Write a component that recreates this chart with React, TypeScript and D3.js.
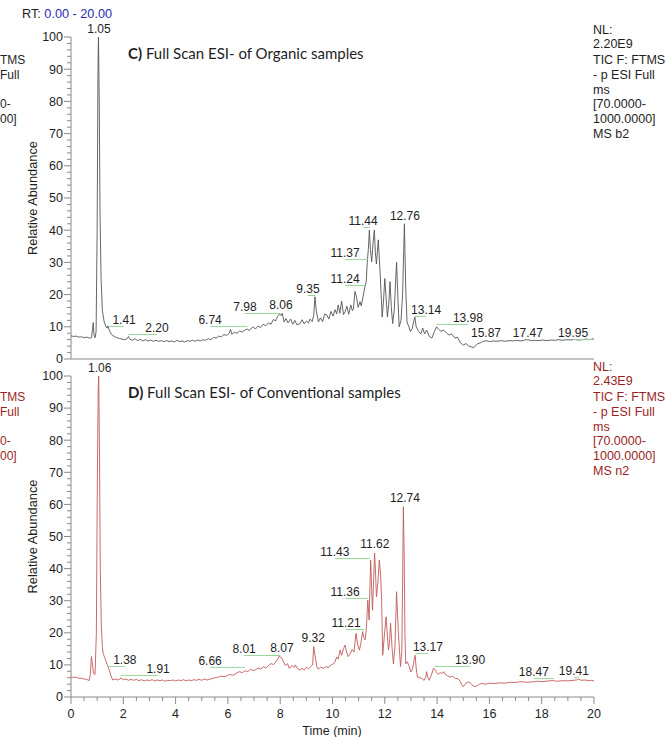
import React from 'react';
import * as d3 from 'd3';

// ---------- DATA ----------
// Organic sample TIC trace: [retention time (min), relative abundance (%)]
const organicTrace: [number, number][] = [
  [0.0, 7.2], [0.1, 7.0], [0.2, 7.1], [0.3, 6.8], [0.4, 6.9], [0.5, 6.6], [0.6, 6.8], [0.7, 6.5],
  [0.78, 6.6], [0.82, 9.0], [0.85, 11.3], [0.88, 7.5], [0.92, 6.6], [0.96, 8.5], [1.0, 40], [1.03, 88],
  [1.05, 100], [1.08, 80], [1.11, 45], [1.15, 25], [1.2, 15], [1.27, 11.5], [1.33, 10.2], [1.38, 9.6],
  [1.41, 10.3], [1.47, 8.8], [1.55, 7.6], [1.65, 7.0], [1.75, 6.6], [1.85, 6.4], [1.95, 6.2], [2.05, 6.0],
  [2.13, 6.2], [2.2, 7.0], [2.26, 6.1], [2.35, 5.8], [2.45, 6.3], [2.55, 5.7], [2.65, 6.1], [2.75, 5.6],
  [2.85, 6.0], [2.95, 5.6], [3.05, 5.9], [3.15, 5.5], [3.25, 5.8], [3.35, 5.5], [3.45, 5.7], [3.55, 5.4],
  [3.65, 5.7], [3.75, 5.4], [3.85, 5.6], [3.95, 5.3], [4.05, 5.8], [4.15, 5.4], [4.25, 5.6], [4.35, 5.3],
  [4.45, 5.7], [4.55, 5.5], [4.65, 5.8], [4.75, 5.5], [4.85, 5.9], [4.95, 5.6], [5.05, 6.0], [5.15, 5.8],
  [5.25, 6.3], [5.35, 6.0], [5.45, 6.7], [5.55, 6.5], [5.65, 7.1], [5.75, 6.9], [5.85, 7.6], [5.95, 7.3],
  [6.05, 8.0], [6.1, 9.2], [6.15, 7.7], [6.25, 8.3], [6.35, 8.0], [6.45, 8.7], [6.55, 8.4], [6.65, 9.0],
  [6.74, 9.3], [6.82, 8.8], [6.9, 9.6], [6.97, 10.0], [7.05, 9.3], [7.15, 10.2], [7.25, 9.8], [7.35, 10.8],
  [7.45, 10.3], [7.55, 11.2], [7.65, 10.8], [7.74, 12.3], [7.82, 11.8], [7.9, 13.2], [7.98, 14.0], [8.03, 13.5],
  [8.08, 14.2], [8.15, 11.5], [8.22, 12.6], [8.3, 11.2], [8.4, 12.4], [8.48, 10.8], [8.56, 12.0], [8.64, 10.6],
  [8.76, 11.0], [8.84, 12.2], [8.92, 10.9], [9.0, 11.8], [9.08, 11.2], [9.14, 12.4], [9.22, 11.6], [9.28, 13.5],
  [9.33, 19.3], [9.38, 15.0], [9.46, 11.5], [9.54, 12.8], [9.62, 11.6], [9.7, 13.9], [9.78, 13.7], [9.86, 12.4],
  [9.94, 14.8], [10.02, 13.3], [10.1, 15.3], [10.16, 14.0], [10.22, 16.8], [10.28, 14.2], [10.35, 18.0], [10.42, 13.8],
  [10.48, 14.6], [10.55, 16.4], [10.62, 13.9], [10.7, 16.8], [10.76, 15.0], [10.8, 15.5], [10.86, 21.0], [10.92, 19.2],
  [10.98, 16.0], [11.05, 17.8], [11.1, 16.5], [11.16, 19.0], [11.24, 22.5], [11.29, 24.0], [11.33, 30.0], [11.37, 34.0],
  [11.41, 40.0], [11.45, 34.0], [11.5, 30.2], [11.55, 36.0], [11.6, 40.0], [11.64, 33.0], [11.68, 29.5], [11.75, 37.0],
  [11.82, 27.0], [11.86, 20.0], [11.9, 13.0], [11.95, 18.0], [12.0, 25.0], [12.05, 19.0], [12.1, 13.0], [12.15, 17.0],
  [12.2, 24.0], [12.25, 16.0], [12.3, 11.0], [12.36, 15.0], [12.45, 30.0], [12.5, 19.0], [12.55, 10.0], [12.62, 12.0],
  [12.68, 20.0], [12.75, 42.0], [12.8, 22.0], [12.85, 11.5], [12.92, 10.0], [12.98, 8.5], [13.05, 9.5], [13.1, 11.5],
  [13.15, 13.0], [13.2, 10.0], [13.3, 8.5], [13.38, 7.8], [13.45, 9.6], [13.52, 7.8], [13.6, 9.0], [13.7, 7.0],
  [13.8, 6.5], [13.88, 8.2], [13.98, 10.0], [14.05, 9.3], [14.15, 8.6], [14.25, 9.0], [14.37, 8.0], [14.47, 7.4],
  [14.55, 7.8], [14.68, 6.5], [14.78, 6.8], [14.88, 5.2], [15.0, 4.3], [15.1, 4.8], [15.2, 4.1], [15.3, 3.8],
  [15.38, 3.5], [15.48, 4.2], [15.56, 4.8], [15.65, 5.0], [15.75, 5.4], [15.87, 5.7], [16.0, 5.4], [16.15, 5.6],
  [16.3, 5.5], [16.45, 5.7], [16.6, 5.5], [16.75, 5.7], [16.9, 5.6], [17.05, 5.8], [17.2, 5.6], [17.35, 5.9],
  [17.47, 6.0], [17.6, 5.7], [17.75, 5.8], [17.9, 5.7], [18.05, 5.9], [18.2, 5.7], [18.35, 5.9], [18.5, 5.8],
  [18.65, 6.0], [18.8, 5.8], [18.95, 6.0], [19.1, 5.9], [19.25, 6.1], [19.4, 5.9], [19.55, 6.0], [19.7, 6.2],
  [19.85, 6.0], [19.95, 6.3], [20.0, 6.1],
];

// Conventional sample TIC trace
const conventionalTrace: [number, number][] = [
  [0.0, 6.3], [0.1, 6.1], [0.2, 6.2], [0.3, 5.8], [0.4, 5.9], [0.5, 5.6], [0.6, 5.5], [0.69, 5.1],
  [0.74, 7.0], [0.78, 12.6], [0.82, 10.0], [0.86, 7.4], [0.92, 7.0], [0.97, 20], [1.01, 70], [1.04, 95],
  [1.06, 100], [1.09, 75], [1.12, 40], [1.16, 22], [1.2, 15.5], [1.23, 13.6], [1.3, 12.0], [1.38, 10.2],
  [1.46, 8.4], [1.53, 6.5], [1.6, 5.3], [1.7, 5.6], [1.8, 5.3], [1.91, 5.9], [2.0, 5.4], [2.1, 5.6],
  [2.2, 5.2], [2.3, 5.5], [2.4, 5.2], [2.5, 5.5], [2.6, 5.1], [2.7, 5.4], [2.8, 5.0], [2.9, 5.3],
  [3.0, 5.1], [3.1, 5.4], [3.2, 5.0], [3.3, 5.3], [3.4, 5.1], [3.5, 5.3], [3.6, 4.9], [3.7, 5.2],
  [3.8, 5.1], [3.9, 5.3], [4.0, 5.0], [4.1, 5.3], [4.2, 5.1], [4.3, 5.4], [4.4, 5.0], [4.5, 5.3],
  [4.6, 5.1], [4.7, 5.4], [4.8, 5.2], [4.9, 5.5], [5.0, 5.2], [5.1, 5.6], [5.2, 5.3], [5.3, 5.5],
  [5.45, 5.9], [5.6, 6.1], [5.75, 6.5], [5.9, 6.3], [6.05, 7.0], [6.2, 6.8], [6.35, 7.5], [6.44, 7.9],
  [6.55, 7.6], [6.66, 8.2], [6.76, 7.9], [6.86, 8.6], [6.95, 8.3], [7.05, 8.4], [7.15, 9.0], [7.25, 8.7],
  [7.35, 9.4], [7.45, 9.0], [7.55, 9.8], [7.65, 10.4], [7.75, 10.1], [7.85, 11.2], [7.92, 12.0], [7.97, 12.8],
  [8.01, 12.3], [8.07, 12.0], [8.12, 11.0], [8.2, 9.8], [8.28, 10.4], [8.35, 8.9], [8.45, 9.8], [8.52, 9.2],
  [8.58, 10.0], [8.66, 8.8], [8.76, 8.4], [8.84, 9.0], [8.92, 8.4], [9.0, 9.3], [9.08, 8.8], [9.16, 9.4],
  [9.24, 10.0], [9.28, 15.7], [9.33, 13.0], [9.4, 9.4], [9.45, 8.7], [9.55, 9.3], [9.65, 8.9], [9.76, 9.5],
  [9.84, 9.1], [9.92, 9.9], [10.03, 10.3], [10.1, 11.0], [10.16, 12.5], [10.22, 11.8], [10.29, 14.6], [10.35, 13.0],
  [10.42, 15.0], [10.48, 16.2], [10.54, 14.0], [10.6, 12.6], [10.68, 13.5], [10.75, 14.8], [10.82, 14.0], [10.9, 19.8],
  [10.96, 16.5], [11.03, 14.6], [11.08, 16.5], [11.15, 20.4], [11.2, 18.5], [11.25, 17.8], [11.3, 22.0], [11.35, 30.2],
  [11.4, 24.0], [11.46, 42.7], [11.5, 33.0], [11.53, 27.0], [11.58, 38.0], [11.61, 44.8], [11.65, 38.0], [11.68, 31.2],
  [11.74, 36.0], [11.79, 42.7], [11.84, 38.0], [11.88, 30.0], [11.92, 13.0], [11.97, 18.0], [12.05, 25.0], [12.1, 19.0],
  [12.14, 14.6], [12.18, 17.0], [12.22, 23.0], [12.28, 15.0], [12.33, 10.3], [12.39, 16.0], [12.45, 32.8], [12.52, 20.0],
  [12.6, 9.5], [12.65, 14.0], [12.68, 35.0], [12.71, 59.3], [12.74, 45.0], [12.77, 20.0], [12.8, 10.3], [12.86, 11.0],
  [12.92, 9.8], [13.0, 7.8], [13.06, 8.8], [13.12, 11.5], [13.16, 13.0], [13.2, 9.0], [13.25, 6.2], [13.35, 6.0],
  [13.45, 5.6], [13.5, 5.2], [13.56, 6.0], [13.6, 7.9], [13.64, 6.2], [13.7, 5.2], [13.78, 6.8], [13.86, 8.9],
  [13.92, 8.6], [14.0, 7.4], [14.05, 7.0], [14.12, 7.7], [14.18, 7.2], [14.25, 7.9], [14.32, 7.0], [14.4, 6.6],
  [14.5, 6.2], [14.6, 6.4], [14.7, 5.8], [14.8, 5.7], [14.88, 4.9], [14.95, 3.8], [15.0, 3.2], [15.1, 4.3],
  [15.2, 4.7], [15.3, 4.2], [15.38, 3.4], [15.45, 3.2], [15.55, 3.6], [15.62, 4.0], [15.7, 4.2], [15.85, 4.0],
  [16.0, 4.3], [16.2, 4.2], [16.4, 4.4], [16.6, 4.3], [16.8, 4.6], [17.0, 4.5], [17.2, 4.8], [17.4, 4.6],
  [17.67, 4.7], [17.85, 4.9], [18.05, 4.8], [18.25, 5.0], [18.44, 5.1], [18.6, 4.9], [18.8, 5.1], [19.0, 5.0],
  [19.2, 5.2], [19.34, 5.3], [19.41, 5.6], [19.5, 5.2], [19.65, 5.3], [19.8, 5.1], [19.9, 5.2], [20.0, 5.0],
];

// Peak labels: [peak RT, label centre time, label baseline abundance]
const organicLabels: [number, number, number][] = [
  [1.05, 1.07, 101.2], [1.41, 2.03, 10.9], [2.2, 3.29, 8.4], [6.74, 5.32, 10.9],
  [7.98, 6.65, 14.9], [8.06, 8.03, 15.5], [9.35, 9.06, 20.5], [11.24, 10.48, 23.6],
  [11.37, 10.48, 31.7], [11.44, 11.17, 41.6], [12.76, 12.77, 43.2], [13.14, 13.58, 14.0],
  [13.98, 15.18, 11.5], [15.87, 15.87, 6.8], [17.47, 17.47, 6.8], [19.95, 19.2, 6.8],
];
const conventionalLabels: [number, number, number][] = [
  [1.06, 1.1, 101.2], [1.38, 2.06, 10.3], [1.91, 3.33, 7.5], [6.66, 5.32, 10.0],
  [8.01, 6.62, 13.7], [8.07, 8.07, 14.0], [9.32, 9.26, 17.1], [11.21, 10.52, 21.8],
  [11.36, 10.48, 31.5], [11.43, 10.09, 43.9], [11.62, 11.62, 46.4], [12.74, 12.77, 60.7],
  [13.17, 13.65, 14.3], [13.9, 15.26, 10.3], [18.47, 17.7, 6.5], [19.41, 19.23, 6.8],
];

const yTickValues = [0, 10, 20, 30, 40, 50, 60, 70, 80, 90, 100];
const xTickValues = [0, 2, 4, 6, 8, 10, 12, 14, 16, 18, 20];

const organicInfo = ['TIC F: FTMS', '- p ESI Full', 'ms', '[70.0000-', '1000.0000]', 'MS b2'];
const conventionalInfo = ['TIC F: FTMS', '- p ESI Full', 'ms', '[70.0000-', '1000.0000]', 'MS n2'];
// visible right-hand fragments of the neighbouring panel's info block (cut by the figure edge)
const neighbourFragments = ['TMS', 'Full', '', '0-', '00]', ''];
const organicNL = '2.20E9';
const conventionalNL = '2.43E9';

// ---------- LAYOUT ----------
const W = 666;
const H = 737;
const FONT = '"Liberation Sans", Arial, sans-serif';
const TITLE_FONT = 'Lato, "Open Sans", sans-serif';
const AXIS = '#8a8a8a';
const TEXT = '#1e1e1e';
const GREEN = '#9ad69a';

const x = d3.scaleLinear().domain([0, 20]).range([71, 594]);

type PanelProps = {
  trace: [number, number][];
  labels: [number, number, number][];
  y: d3.ScaleLinear<number, number>;
  color: string;
  textColor: string;
  letter: string;
  title: string;
  nl: string;
  info: string[];
  infoTop: number;
  bottomAxis: boolean;
};

function Panel({ trace, labels, y, color, textColor, letter, title, nl, info, infoTop, bottomAxis }: PanelProps) {
  const line = d3.line<[number, number]>().x(d => x(d[0])).y(d => y(d[1]));
  const minor = d3.range(0, 101, 2);
  const xMinor = d3.range(0, 20.01, 0.5);
  const y0 = y(0);
  return (
    <g>
      {/* y axis */}
      <line x1={71} x2={71} y1={y(100)} y2={y0} stroke={AXIS} strokeWidth={1} />
      {minor.map(v => (
        <line key={'m' + v} x1={v % 10 === 0 ? 64 : 67} x2={71} y1={y(v)} y2={y(v)} stroke={AXIS} strokeWidth={1} />
      ))}
      {yTickValues.map(v => (
        <text key={'yt' + v} x={63} y={y(v)} dy="0.35em" textAnchor="end" fontSize={12.5} fontFamily={FONT} fill={TEXT}>{v}</text>
      ))}
      <text
        transform={`translate(37,${(y(100) + y0) / 2}) rotate(-90)`}
        textAnchor="middle" fontSize={12.8} fontFamily={FONT} fill={TEXT}
      >Relative Abundance</text>
      {/* x axis line */}
      <line x1={71} x2={594} y1={y0} y2={y0} stroke={AXIS} strokeWidth={1} />
      {bottomAxis && xMinor.map(t => (
        <line key={'xm' + t} x1={x(t)} x2={x(t)} y1={y0} y2={y0 + (t % 2 === 0 ? 7 : 4)} stroke={AXIS} strokeWidth={1} />
      ))}
      {bottomAxis && xTickValues.map(t => (
        <text key={'xt' + t} x={x(t)} y={718} textAnchor="middle" fontSize={12.5} fontFamily={FONT} fill={TEXT}>{t}</text>
      ))}
      {/* trace */}
      <path d={line(trace) || ''} fill="none" stroke={color} strokeWidth={0.9} strokeLinejoin="round" />
      {/* label leader lines */}
      {labels.map(([rt, lt, lv]) => {
        const px = x(rt);
        const lx = x(lt);
        if (Math.abs(px - lx) < 4) return null;
        return <line key={'g' + rt} x1={lx} x2={px} y1={y(lv) + 2.5} y2={y(lv) + 2.5} stroke={GREEN} strokeWidth={1} />;
      })}
      {labels.map(([rt, lt, lv]) => (
        <text key={'l' + rt} x={x(lt)} y={y(lv)} textAnchor="middle" fontSize={12} fontFamily={FONT} fill={TEXT}>
          {rt.toFixed(2)}
        </text>
      ))}
      {/* title */}
      <text x={128} y={y(100) + 22} fontSize={15} fontFamily={TITLE_FONT} fill={TEXT}>
        <tspan fontWeight="bold">{letter}</tspan>
        <tspan> {title}</tspan>
      </text>
      {/* right info block */}
      <text x={593} y={infoTop} fontSize={12.5} fontFamily={FONT} fill={textColor}>NL:</text>
      <text x={593} y={infoTop + 14} fontSize={12.5} fontFamily={FONT} fill={textColor}>{nl}</text>
      {info.map((s, i) => (
        <text key={'i' + i} x={593} y={infoTop + 30 + i * 14.8} fontSize={12.5} fontFamily={FONT} fill={textColor}>{s}</text>
      ))}
      {/* fragments of the neighbouring panel's info block, cut at the left edge */}
      {neighbourFragments.map((s, i) => (s ? (
        <text key={'c' + i} x={0} y={infoTop + 30 + i * 14.8} fontSize={12} fontFamily={FONT} fill={textColor}>{s}</text>
      ) : null))}
    </g>
  );
}

export default function App() {
  const yTop = d3.scaleLinear().domain([0, 100]).range([359, 37]);
  const yBottom = d3.scaleLinear().domain([0, 100]).range([697, 376]);
  return (
    <svg width={W} height={H} viewBox={`0 0 ${W} ${H}`} style={{ position: 'absolute', left: 0, top: 0, display: 'block', background: '#fff' }}>
      <rect x={0} y={0} width={W} height={H} fill="#fff" />
      <text x={22} y={18} fontSize={12.7} fontFamily={FONT} fill={TEXT}>
        RT: <tspan fill="#2b2bb0">0.00 - 20.00</tspan>
      </text>
      <Panel trace={organicTrace} labels={organicLabels} y={yTop} color="#555555" textColor={TEXT}
        letter="C)" title="Full Scan ESI- of Organic samples" nl={organicNL} info={organicInfo} infoTop={34} bottomAxis={false} />
      <Panel trace={conventionalTrace} labels={conventionalLabels} y={yBottom} color="#c25a5a" textColor="#9b1e1e"
        letter="D)" title="Full Scan ESI- of Conventional samples" nl={conventionalNL} info={conventionalInfo} infoTop={371} bottomAxis={true} />
      <text x={332} y={735} textAnchor="middle" fontSize={12.5} fontFamily={FONT} fill={TEXT}>Time (min)</text>
    </svg>
  );
}
